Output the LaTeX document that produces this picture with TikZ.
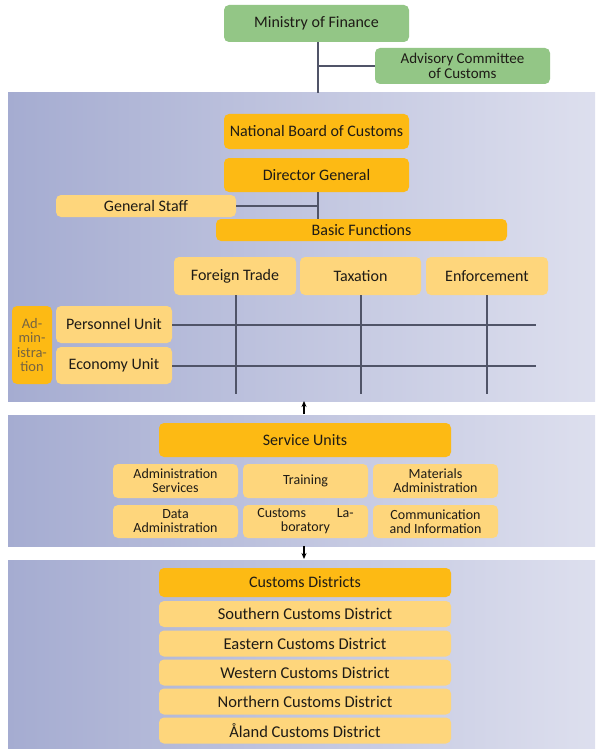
\documentclass[tikz,border=0pt]{standalone}
\usepackage{fontspec}
\setmainfont{Carlito}
\usetikzlibrary{arrows.meta}

\definecolor{mingreen}{RGB}{147,198,134}
\definecolor{deeporange}{RGB}{253,186,20}
\definecolor{paleorange}{RGB}{254,214,124}
\definecolor{bandleft}{RGB}{165,172,209}
\definecolor{bandright}{RGB}{221,223,238}
\definecolor{linkgray}{RGB}{80,84,104}
\definecolor{inkdark}{RGB}{30,27,22}
\definecolor{admtext}{RGB}{118,100,66}

\tikzset{
  box/.style={rounded corners=5pt, inner sep=1pt, align=center,
              text=inkdark, font=\fontsize{16}{16}\selectfont},
  greenbox/.style={box, fill=mingreen},
  mainbox/.style={box, fill=deeporange},
  subbox/.style={box, fill=paleorange},
  smallbox/.style={subbox, font=\fontsize{14}{14}\selectfont},
  districtbox/.style={subbox, font=\fontsize{16.5}{16.5}\selectfont},
  band/.style={left color=bandleft, right color=bandright},
  link/.style={draw=linkgray, line width=1.1pt},
  flowarrow/.style={draw=black, line width=1.2pt,
                    -{Stealth[length=6pt,width=5pt]}},
}

\begin{document}
\begin{tikzpicture}[x=1pt, y=-1pt]
\useasboundingbox (0,0) rectangle (595,749);
\fill[white] (0,0) rectangle (595,749);

% background bands of the three levels
\shade[band] (8,93) rectangle (595,401);
\shade[band] (8,415) rectangle (595,546);
\shade[band] (8,560) rectangle (595,749);

% ministry level
\node[greenbox, minimum width=185, minimum height=37] (mof) at (316.5,23.5) {Ministry of Finance};
\node[greenbox, minimum width=175, minimum height=36, font=\fontsize{15}{14.5}\selectfont] (adv) at (462.5,66) {Advisory Committee\\of Customs};
\coordinate (mofdown) at (318,93);
\coordinate (advjoin) at (318,66);
\draw[link] (mof.south -| mofdown) -- (mofdown);
\draw[link] (advjoin) -- (adv.west);

% national board
\node[mainbox, minimum width=185, minimum height=35] (nbc) at (316.5,131.5) {National Board of Customs};
\node[mainbox, minimum width=185, minimum height=34] (dg) at (316.5,175) {Director General};
\node[subbox, minimum width=180, minimum height=22] (gs) at (146,206) {General Staff};
\node[mainbox, minimum width=291, minimum height=22] (bf) at (361.5,230) {Basic Functions};
\coordinate (gsjoin) at (318,206);
\draw[link] (dg.south -| gsjoin) -- (bf.north -| gsjoin);
\draw[link] (gs.east) -- (gsjoin);

% basic functions matrix
\node[subbox, minimum width=122, minimum height=38] (ft) at (235,276) {Foreign Trade};
\node[subbox, minimum width=121, minimum height=38] (tax) at (360.5,276) {Taxation};
\node[subbox, minimum width=122, minimum height=38] (enf) at (487,276) {Enforcement};
\node[mainbox, minimum width=40, minimum height=78, text=admtext,
      font=\fontsize{14.5}{14.5}\selectfont] (adm) at (32,345) {Ad-\\min-\\istra-\\tion};
\node[subbox, minimum width=116, minimum height=37] (pu) at (114,324.5) {Personnel Unit};
\node[subbox, minimum width=116, minimum height=37] (eu) at (114,365.5) {Economy Unit};

\coordinate (ftend) at (236,394);
\coordinate (taxend) at (361,394);
\coordinate (enfend) at (487,394);
\coordinate (puend) at (536,325);
\coordinate (euend) at (536,366);
\draw[link] (ft.south -| ftend) -- (ftend);
\draw[link] (tax.south -| taxend) -- (taxend);
\draw[link] (enf.south -| enfend) -- (enfend);
\draw[link] (pu.east |- puend) -- (puend);
\draw[link] (eu.east |- euend) -- (euend);

% service units
\node[mainbox, minimum width=292, minimum height=34] (su) at (305,440) {Service Units};
\node[smallbox, minimum width=125, minimum height=34] (as) at (175.5,481) {Administration\\Services};
\node[smallbox, minimum width=125, minimum height=34] (tr) at (305.5,481) {Training};
\node[smallbox, minimum width=125, minimum height=34] (ma) at (435.5,481) {Materials\\Administration};
\node[smallbox, minimum width=125, minimum height=33] (da) at (175.5,521.5) {Data\\Administration};
\node[smallbox, minimum width=125, minimum height=33] (cl) at (305.5,521.5) {Customs\hspace{2.2em}La-\\boratory};
\node[smallbox, minimum width=125, minimum height=33] (ci) at (435.5,521.5) {Communication\\and Information};

% arrows between levels
\coordinate (upfrom) at (304,414);
\coordinate (upto) at (304,401);
\draw[flowarrow] (upfrom) -- (upto);
\coordinate (downfrom) at (304,546);
\coordinate (downto) at (304,559);
\draw[flowarrow] (downfrom) -- (downto);

% customs districts
\node[mainbox, minimum width=292, minimum height=29] (cd) at (305,582.5) {Customs Districts};
\node[districtbox, minimum width=292, minimum height=26] (sd) at (305,614) {Southern Customs District};
\node[districtbox, minimum width=292, minimum height=26] (ed) at (305,643.5) {Eastern Customs District};
\node[districtbox, minimum width=292, minimum height=26] (wd) at (305,672.5) {Western Customs District};
\node[districtbox, minimum width=292, minimum height=26] (nd) at (305,701.5) {Northern Customs District};
\node[districtbox, minimum width=292, minimum height=26] (ad) at (305,730.5) {Åland Customs District};
\end{tikzpicture}
\end{document}
